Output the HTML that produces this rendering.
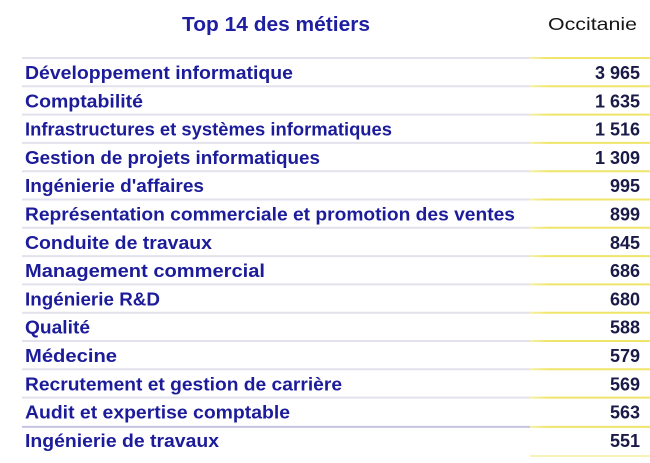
<!DOCTYPE html>
<html><head><meta charset="utf-8"><style>
html,body{margin:0;padding:0;background:#fff;}
svg{display:block;}
</style></head><body>
<svg width="650" height="463" viewBox="0 0 650 463" xmlns="http://www.w3.org/2000/svg">
<defs>
<linearGradient id="yl" gradientUnits="userSpaceOnUse" x1="530" x2="650" y1="0" y2="0">
<stop offset="0" stop-color="#f5f0a8"/>
<stop offset="0.15" stop-color="#efe56a"/>
<stop offset="1" stop-color="#efe56a"/>
</linearGradient>
</defs>
<rect width="650" height="463" fill="#fff"/>
<g font-family="Liberation Sans, sans-serif">
<text x="182" y="31" font-size="20" font-weight="bold" fill="#1e1ea0" textLength="188" lengthAdjust="spacingAndGlyphs">Top 14 des métiers</text>
<text x="548" y="30" font-size="17.5" fill="#151515" textLength="89" lengthAdjust="spacingAndGlyphs">Occitanie</text>
</g>
<g stroke-width="2">
<g stroke="#e2e2ec">
<line x1="22" y1="58" x2="530" y2="58"/>
<line x1="22" y1="86.3" x2="530" y2="86.3"/>
<line x1="22" y1="114.6" x2="530" y2="114.6"/>
<line x1="22" y1="142.9" x2="530" y2="142.9"/>
<line x1="22" y1="171.2" x2="530" y2="171.2"/>
<line x1="22" y1="199.5" x2="530" y2="199.5"/>
<line x1="22" y1="227.8" x2="530" y2="227.8"/>
<line x1="22" y1="256.1" x2="530" y2="256.1"/>
<line x1="22" y1="284.4" x2="530" y2="284.4"/>
<line x1="22" y1="312.7" x2="530" y2="312.7"/>
<line x1="22" y1="341" x2="530" y2="341"/>
<line x1="22" y1="369.3" x2="530" y2="369.3"/>
<line x1="22" y1="397.6" x2="530" y2="397.6"/>
</g>
<line x1="22" y1="426.9" x2="530" y2="426.9" stroke="#c4c4e0"/>
<g stroke="url(#yl)">
<line x1="530" y1="58" x2="650" y2="58"/>
<line x1="530" y1="86.3" x2="650" y2="86.3"/>
<line x1="530" y1="114.6" x2="650" y2="114.6"/>
<line x1="530" y1="142.9" x2="650" y2="142.9"/>
<line x1="530" y1="171.2" x2="650" y2="171.2"/>
<line x1="530" y1="199.5" x2="650" y2="199.5"/>
<line x1="530" y1="227.8" x2="650" y2="227.8"/>
<line x1="530" y1="256.1" x2="650" y2="256.1"/>
<line x1="530" y1="284.4" x2="650" y2="284.4"/>
<line x1="530" y1="312.7" x2="650" y2="312.7"/>
<line x1="530" y1="341" x2="650" y2="341"/>
<line x1="530" y1="369.3" x2="650" y2="369.3"/>
<line x1="530" y1="397.6" x2="650" y2="397.6"/>
<line x1="530" y1="426.9" x2="650" y2="426.9"/>
</g>
<line x1="530" y1="456" x2="650" y2="456" stroke="#f6f2b8"/>
</g>
<g font-family="Liberation Sans, sans-serif" font-size="18" font-weight="bold" fill="#1c1c9a">
<text x="25" y="79" textLength="268" lengthAdjust="spacingAndGlyphs">Développement informatique</text>
<text x="25" y="107.3" textLength="118" lengthAdjust="spacingAndGlyphs">Comptabilité</text>
<text x="25" y="135.6" textLength="367" lengthAdjust="spacingAndGlyphs">Infrastructures et systèmes informatiques</text>
<text x="25" y="163.9" textLength="295" lengthAdjust="spacingAndGlyphs">Gestion de projets informatiques</text>
<text x="25" y="192.2" textLength="179" lengthAdjust="spacingAndGlyphs">Ingénierie d'affaires</text>
<text x="25" y="220.5" textLength="490" lengthAdjust="spacingAndGlyphs">Représentation commerciale et promotion des ventes</text>
<text x="25" y="248.8" textLength="187" lengthAdjust="spacingAndGlyphs">Conduite de travaux</text>
<text x="25" y="277.1" textLength="240" lengthAdjust="spacingAndGlyphs">Management commercial</text>
<text x="25" y="305.4" textLength="135" lengthAdjust="spacingAndGlyphs">Ingénierie R&amp;D</text>
<text x="25" y="333.7" textLength="65" lengthAdjust="spacingAndGlyphs">Qualité</text>
<text x="25" y="362" textLength="92" lengthAdjust="spacingAndGlyphs">Médecine</text>
<text x="25" y="390.3" textLength="317" lengthAdjust="spacingAndGlyphs">Recrutement et gestion de carrière</text>
<text x="25" y="418.6" textLength="265" lengthAdjust="spacingAndGlyphs">Audit et expertise comptable</text>
<text x="25" y="446.9" textLength="194" lengthAdjust="spacingAndGlyphs">Ingénierie de travaux</text>
</g>
<g font-family="Liberation Sans, sans-serif" font-size="18" font-weight="bold" fill="#1a1a48" text-anchor="end">
<text x="640" y="79">3 965</text>
<text x="640" y="107.3">1 635</text>
<text x="640" y="135.6">1 516</text>
<text x="640" y="163.9">1 309</text>
<text x="640" y="192.2">995</text>
<text x="640" y="220.5">899</text>
<text x="640" y="248.8">845</text>
<text x="640" y="277.1">686</text>
<text x="640" y="305.4">680</text>
<text x="640" y="333.7">588</text>
<text x="640" y="362">579</text>
<text x="640" y="390.3">569</text>
<text x="640" y="418.6">563</text>
<text x="640" y="446.9">551</text>
</g>
</svg>
</body></html>
